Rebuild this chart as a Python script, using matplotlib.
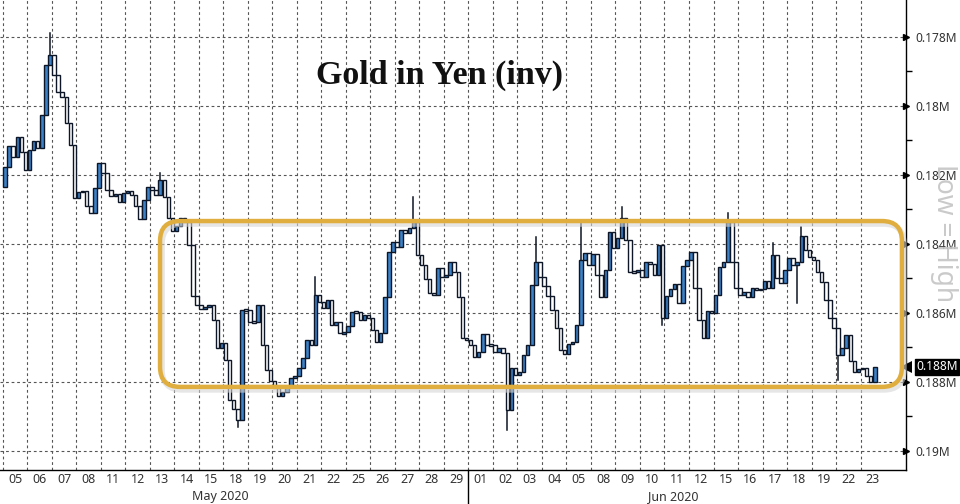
import matplotlib
matplotlib.use("Agg")
import matplotlib.pyplot as plt
from matplotlib.patches import FancyBboxPatch
from matplotlib.transforms import IdentityTransform, blended_transform_factory

# ---------------- data (thousand JPY per oz) ----------------
day_labels = ["05", "06", "07", "08", "11", "12", "13", "14", "15", "18", "19", "20",
              "21", "22", "25", "26", "27", "28", "29",
              "01", "02", "03", "04", "05", "08", "09", "10", "11", "12", "15", "16",
              "17", "18", "19", "22", "23"]
month_labels = ["May 2020", "Jun 2020"]
month_pos = [8.85, 27.35]
month_break = 19
slots_per_day = 6

first_open = 182.35
closes = [
    181.77, 181.16, 181.48, 180.90, 181.34, 181.86,   # 05
    181.28, 181.02, 181.22, 180.26, 178.81, 178.52,   # 06
    179.10, 179.60, 179.74, 180.49, 181.13, 182.67,   # 07
    182.50, 182.47, 182.90, 183.10, 182.38, 181.65,   # 08
    181.94, 182.44, 182.61, 182.55, 182.79, 182.52,   # 11
    182.47, 182.58, 182.90, 183.28, 182.73, 182.35,   # 12
    182.44, 182.58, 182.15, 182.64, 183.25, 183.63,   # 13
    183.48, 183.25, 183.37, 184.03, 185.51, 185.77,   # 14
    185.89, 185.83, 185.77, 186.21, 187.02, 186.87,   # 15
    187.37, 188.53, 188.79, 189.11, 185.92, 185.92,   # 18
    186.27, 186.27, 185.77, 186.93, 187.66, 187.98,   # 19
    188.18, 188.41, 188.30, 188.15, 187.89, 187.83,   # 20
    187.60, 187.31, 186.79, 186.93, 185.48, 185.69,   # 21
    185.86, 185.63, 186.35, 186.27, 186.58, 186.56,   # 22
    186.38, 185.98, 185.98, 186.21, 186.06, 186.15,   # 25
    186.50, 186.85, 186.58, 185.54, 184.24, 183.95,   # 26
    184.09, 183.60, 183.68, 183.54, 183.37, 184.32,   # 27
    184.61, 185.02, 185.42, 185.48, 184.70, 184.96,   # 28
    184.90, 184.53, 184.82, 185.54, 186.73, 186.79,   # 29
    186.93, 187.28, 187.14, 186.61, 186.93, 186.93,   # 01
    187.14, 187.02, 187.16, 188.82, 187.60, 187.80,   # 02
    187.72, 187.22, 186.93, 185.19, 184.53, 184.96,   # 03
    185.22, 185.51, 185.92, 186.44, 187.08, 187.19,   # 04
    186.90, 186.85, 186.35, 184.47, 184.26, 184.61,   # 05
    184.29, 184.90, 185.54, 184.76, 183.66, 184.12,   # 08
    183.83, 183.25, 183.89, 184.82, 184.82, 184.76,   # 09
    184.96, 184.53, 184.58, 184.90, 184.03, 186.15,   # 10
    185.51, 185.31, 185.16, 185.71, 184.64, 184.47,   # 11
    184.24, 185.28, 186.21, 186.73, 185.95, 186.00,   # 12
    185.48, 184.67, 184.53, 183.37, 184.53, 185.28,   # 15
    185.48, 185.40, 185.54, 185.28, 185.34, 185.31,   # 16
    185.08, 185.28, 184.32, 184.99, 185.13, 184.76,   # 17
    184.41, 184.61, 184.53, 183.77, 184.18, 184.38,   # 18
    184.47, 184.82, 185.11, 185.63, 186.15, 186.44,   # 19
    187.22, 187.02, 186.64, 187.40, 187.72, 187.63,   # 22
    187.60, 187.83, 188.01, 187.57,                   # 23
]
# wick extremes for candles with visible spikes: (candle index, value)
spikes = [(11, 177.88), (38, 181.94), (57, 189.31), (76, 184.96), (100, 182.64),
          (123, 189.40), (130, 183.80), (141, 183.39), (151, 182.93), (161, 186.35),
          (177, 183.10), (188, 183.97), (194, 185.71), (195, 183.51), (204, 187.95)]

y_ticks = [178, 180, 182, 184, 186, 188, 190]
y_minor = [179, 181, 183, 185, 187, 189]
box_range = (6.41, 36.69, 183.34, 188.15)  # range box: x from, x to, value top, value bottom

axis_font = ["Noto Sans", "DejaVu Sans"]

# ---------------- figure ----------------
fig = plt.figure(figsize=(9.6, 5.04), dpi=100)
ax = fig.add_axes([0, 34 / 504, 906 / 960, 470 / 504])
ax.set_xlim(-0.122, 36.857)
ax.set_ylim(190.56, 176.93)

grid_kw = dict(color="#555555", lw=0.8, ls=(0, (2.5, 2.5)), zorder=1)
for d in range(len(day_labels)):
    ax.axvline(d, **grid_kw)
for v in y_ticks:
    ax.axhline(v, **grid_kw)

# candles
opens = [first_open] + closes[:-1]
xs = [j // slots_per_day + (j % slots_per_day + 0.5) / slots_per_day for j in range(len(closes))]
w = 0.85 / slots_per_day
blue = "#3b82c8"
edge = "#0d1626"
for j, v in spikes:
    o, c = opens[j], closes[j]
    lo, hi = min(o, c), max(o, c)
    end = lo if v < lo else hi
    ax.plot([xs[j], xs[j]], [v, end], color=edge, lw=1.1, zorder=2.5)
for j, (x, o, c) in enumerate(zip(xs, opens, closes)):
    falling = c < o
    h = c - o if abs(c - o) > 0.03 else 0.06
    b = o if abs(c - o) > 0.03 else o - 0.03
    ax.bar(x, h, bottom=b, width=w, color=blue if falling else "white",
           edgecolor=edge, linewidth=1.0, zorder=3)

# spines
for s in ["left", "top"]:
    ax.spines[s].set_visible(False)
for s in ["right", "bottom"]:
    ax.spines[s].set_color("black")
    ax.spines[s].set_linewidth(1.0)

# y axis on right
ax.yaxis.tick_right()
ax.set_yticks(y_ticks)
ax.set_yticklabels([f"{v / 1000:.3f}".rstrip("0") + "M" for v in y_ticks], family=axis_font)
ax.set_yticks(y_minor, minor=True)
ax.tick_params(axis="y", which="major", length=0, pad=7, labelsize=8.6, labelcolor="#333333")
ax.tick_params(axis="y", which="minor", length=4, width=1, color="black", direction="out")
trans_r = blended_transform_factory(ax.transAxes, ax.transData)
ax.plot([1.0] * len(y_ticks), y_ticks, transform=trans_r, ls="none", marker=">",
        ms=5, color="black", clip_on=False, zorder=6)

# x axis
ax.set_xticks([d + 0.5 for d in range(len(day_labels))])
ax.set_xticklabels(day_labels, family=axis_font)
ax.tick_params(axis="x", length=0, pad=2.5, labelsize=9, labelcolor="#333333")
trans_b = blended_transform_factory(ax.transData, ax.transAxes)
for lab, p in zip(month_labels, month_pos):
    ax.text(p, -0.056, lab, transform=trans_b, ha="center", va="center",
            fontsize=9, color="#333333", family=axis_font)
ax.plot([month_break, month_break], [0, -34 / 470], transform=trans_b, color="black",
        lw=1.0, clip_on=False)

# title and side text
fig.text(439 / 960, 1 - 84 / 504, "Gold in Yen (inv)", ha="center", va="baseline",
         fontsize=24.5, fontweight="bold", family="Liberation Serif", color="#111111")
fig.text(944 / 960, 1 - 233 / 504, "Low = High", rotation=-90, ha="center", va="center",
         fontsize=19, color="#c4c4c4", alpha=0.9, zorder=10, family=axis_font)

# last value tag
last = closes[-1]
ax.annotate(f"{last / 1000:.3f}M", xy=(1.0, last), xycoords=trans_r,
            xytext=(7.5, 0), textcoords="offset points", ha="left", va="center",
            fontsize=8.6, color="white", family=axis_font,
            bbox=dict(boxstyle="square,pad=0.12", fc="black", ec="black"),
            annotation_clip=False, zorder=7)
ax.plot([1.0], [last], transform=trans_r, marker="<", ms=8, color="black",
        clip_on=False, zorder=7, markeredgewidth=0)

# range box (in display pixels so corners stay round)
x0, y0 = ax.transData.transform((box_range[0], box_range[3]))
x1, y1 = ax.transData.transform((box_range[1], box_range[2]))
shadow = FancyBboxPatch((x0 + 2, y0 - 3), x1 - x0, y1 - y0,
                        boxstyle="round,pad=0,rounding_size=20", fill=False,
                        ec="#d6d6d6", lw=4.0, alpha=0.6, transform=IdentityTransform(), zorder=8)
box = FancyBboxPatch((x0, y0), x1 - x0, y1 - y0,
                     boxstyle="round,pad=0,rounding_size=20", fill=False,
                     ec="#e0ae3e", lw=3.2, transform=IdentityTransform(), zorder=9)
fig.add_artist(shadow)
fig.add_artist(box)

fig.savefig("out.png", dpi=100, facecolor="white")
